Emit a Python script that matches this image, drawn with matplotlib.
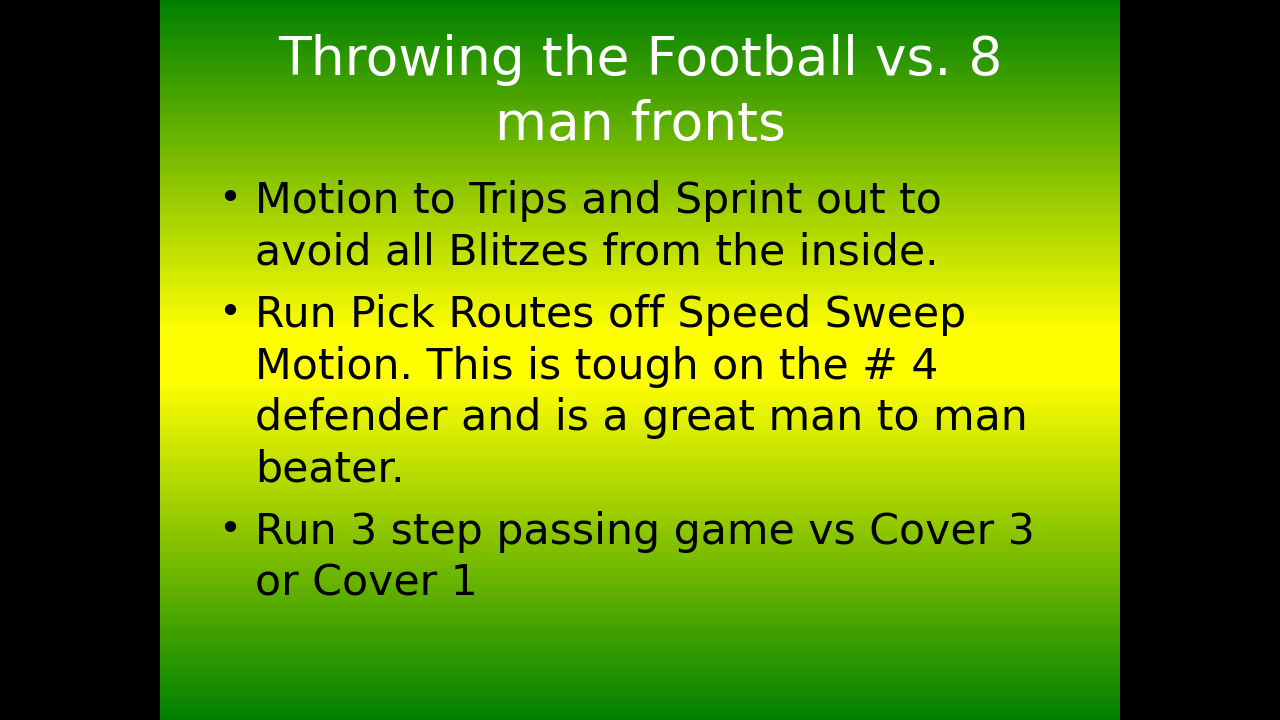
import matplotlib
matplotlib.use("Agg")
import matplotlib.pyplot as plt
import numpy as np
from matplotlib.colors import LinearSegmentedColormap

# slide content
title_lines = ["Throwing the Football vs. 8", "man fronts"]
bullets = [
    ["Motion to Trips and Sprint out to", "avoid all Blitzes from the inside."],
    ["Run Pick Routes off Speed Sweep", "Motion. This is tough on the # 4",
     "defender and is a great man to man", "beater."],
    ["Run 3 step passing game vs Cover 3", "or Cover 1"],
]

fig = plt.figure(figsize=(12.8, 7.2), dpi=100)
fig.patch.set_facecolor("black")
ax = fig.add_axes([0, 0, 1, 1])
ax.set_xlim(0, 1280)
ax.set_ylim(720, 0)
ax.axis("off")
ax.set_facecolor("black")

# green -> yellow -> green background panel
cmap = LinearSegmentedColormap.from_list(
    "slide", [(0.0, "#008000"), (0.46, "#ffff00"), (0.53, "#ffff00"), (1.0, "#008000")])
grad = np.linspace(0, 1, 512).reshape(-1, 1)
ax.imshow(grad, cmap=cmap, extent=[160, 1120, 720, 0], aspect="auto", zorder=0)

# title
title_y = [60, 125]
for line, y in zip(title_lines, title_y):
    ax.text(640, y, line, color="white", fontsize=38.5, ha="center", va="center",
            family="DejaVu Sans")

# bullets
line_h = 51.5
y = 201
for lines in bullets:
    ax.text(230, y - 2, "\u2022", color="black", fontsize=28, ha="center", va="center")
    for ln in lines:
        ax.text(255, y, ln, color="black", fontsize=30.7, ha="left", va="center")
        y += line_h
    y += 11

fig.savefig("out.png", dpi=100, facecolor="black")
